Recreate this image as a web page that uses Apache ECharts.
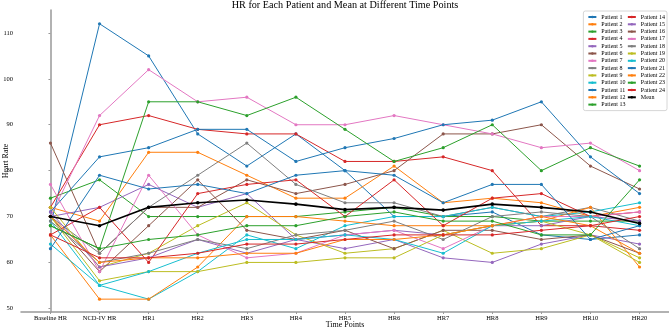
<!DOCTYPE html>
<html>
<head>
<meta charset="utf-8">
<script src="https://cdn.jsdelivr.net/npm/echarts@6/dist/echarts.min.js"></script>
<style>
  html, body { margin: 0; padding: 0; background: #fff; }
  #chart { width: 669px; height: 329px; }
</style>
</head>
<body>
<div id="chart"></div>
<script>
const categories = ['Baseline HR', 'NCD-IV HR', 'HR1', 'HR2', 'HR3', 'HR4', 'HR5', 'HR6', 'HR7', 'HR8', 'HR9', 'HR10', 'HR20']
const yTicks = [50, 60, 70, 80, 90, 100, 110]

const p1 = [68, 112, 105, 88, 81, 88, 80, 70, 70, 71, 66, 65, 66]
const p2 = [72, 69, 84, 84, 79, 74, 74, 81, 73, 74, 73, 70, 72]
const p3 = [74, 78, 70, 70, 70, 70, 71, 72, 70, 70, 69, 69, 69]
const p4 = [72, 90, 92, 89, 88, 88, 82, 82, 83, 80, 68, 68, 67]
const p5 = [70, 72, 77, 72, 75, 65, 63, 65, 61, 60, 64, 66, 64]
const p6 = [86, 62, 72, 72, 78, 75, 77, 80, 88, 88, 90, 81, 76]
const p7 = [70, 92, 102, 95, 96, 90, 90, 92, 90, 88, 85, 86, 80]
const p8 = [70, 62, 72, 79, 86, 77, 73, 73, 70, 72, 70, 72, 69]
const p9 = [72, 59, 62, 68, 73, 66, 62, 63, 67, 62, 63, 66, 61]
const p10 = [69, 55, 52, 58, 66, 63, 68, 70, 70, 72, 70, 71, 73]
const p11 = [71, 83, 85, 89, 89, 82, 85, 87, 90, 91, 95, 83, 75]
const p12 = [66, 52, 52, 59, 70, 70, 69, 68, 68, 68, 69, 72, 59]
const p13 = [68, 63, 95, 95, 92, 96, 89, 82, 85, 90, 80, 85, 81]
const p14 = [66, 72, 60, 75, 77, 78, 70, 78, 68, 74, 75, 70, 71]
const p15 = [71, 59, 61, 65, 62, 65, 66, 67, 66, 68, 68, 70, 69]
const p16 = [70, 58, 68, 78, 67, 65, 67, 63, 67, 67, 65, 66, 62]
const p17 = [77, 58, 79, 66, 61, 62, 66, 67, 63, 68, 70, 70, 71]
const p18 = [69, 60, 62, 65, 63, 66, 67, 69, 65, 70, 71, 70, 63]
const p19 = [70, 56, 58, 58, 60, 60, 61, 61, 66, 68, 69, 66, 60]
const p20 = [64, 55, 58, 62, 65, 65, 66, 65, 62, 68, 69, 70, 68]
const p21 = [63, 79, 76, 77, 75, 79, 80, 79, 73, 77, 77, 65, 68]
const p22 = [70, 60, 61, 61, 62, 62, 65, 65, 66, 68, 70, 68, 62]
const p23 = [68, 63, 65, 66, 68, 68, 70, 71, 69, 69, 66, 66, 78]
const p24 = [66, 61, 61, 62, 64, 64, 65, 66, 66, 66, 67, 68, 70]
const meanHR = [70, 68, 72, 73, 73.6, 72.7, 71.5, 72, 71.4, 72.7, 72, 71, 68.5]

const patients = [p1, p2, p3, p4, p5, p6, p7, p8, p9, p10, p11, p12,
    p13, p14, p15, p16, p17, p18, p19, p20, p21, p22, p23, p24]

// matplotlib tab10 cycle
const palette = ['#1f77b4', '#ff7f0e', '#2ca02c', '#d62728', '#9467bd',
    '#8c564b', '#e377c2', '#7f7f7f', '#bcbd22', '#17becf']

const FONT = 'Liberation Serif'

const toPoints = vals => vals.map((v, i) => [i, v])

const series = patients.map((vals, i) => ({
    name: 'Patient ' + (i + 1),
    type: 'line',
    data: toPoints(vals),
    symbol: 'circle',
    symbolSize: 3.2,
    color: palette[i % palette.length],
    lineStyle: { width: 1 },
    emphasis: { disabled: true }
}))

series.push({
    name: 'Mean',
    type: 'line',
    data: toPoints(meanHR),
    symbol: 'circle',
    symbolSize: 3.6,
    color: '#000',
    lineStyle: { width: 1.6 },
    z: 5,
    emphasis: { disabled: true }
})

const chart = echarts.init(document.getElementById('chart'))

chart.setOption({
    animation: false,
    title: {
        text: 'HR for Each Patient and Mean at Different Time Points',
        left: 345,
        textAlign: 'center',
        top: 0,
        padding: 0,
        textStyle: { fontFamily: FONT, fontSize: 10.2, fontWeight: 'normal', color: '#000' }
    },
    legend: {
        orient: 'vertical',
        right: 2,
        top: 11,
        height: 97,
        itemWidth: 8,
        itemHeight: 3,
        itemGap: 1.3,
        padding: [3, 2, 3, 4],
        borderColor: '#ccc',
        borderWidth: 0.8,
        borderRadius: 2,
        backgroundColor: 'rgba(255,255,255,0.8)',
        textStyle: { fontFamily: FONT, fontSize: 6, color: '#000', padding: [0, 1.5, 0, 0] }
    },
    grid: { left: 21, right: 0, top: 10, bottom: 17, outerBoundsMode: 'none' },
    xAxis: {
        type: 'value',
        min: -0.6,
        max: 12.6,
        name: 'Time Points',
        nameLocation: 'middle',
        nameGap: 8.5,
        nameMoveOverlap: false,
        nameTextStyle: { fontFamily: FONT, fontSize: 8, color: '#000' },
        axisLine: { show: true, lineStyle: { color: '#999', width: 1.5 } },
        axisTick: { show: true, length: 2, customValues: categories.map((c, i) => i), lineStyle: { color: '#999' } },
        axisLabel: {
            customValues: categories.map((c, i) => i),
            formatter: v => categories[v],
            margin: 3,
            fontFamily: FONT,
            fontSize: 6.5,
            color: '#000'
        },
        splitLine: { show: false }
    },
    yAxis: {
        type: 'value',
        min: 49.2,
        max: 115,
        name: 'Heart Rate',
        nameLocation: 'middle',
        nameGap: 11,
        nameMoveOverlap: false,
        nameTextStyle: { fontFamily: FONT, fontSize: 8, color: '#000' },
        axisLine: { show: true, lineStyle: { color: '#999', width: 1.5 } },
        axisTick: { show: true, length: 2, customValues: yTicks, lineStyle: { color: '#999' } },
        axisLabel: {
            customValues: yTicks,
            margin: 8,
            fontFamily: FONT,
            fontSize: 6.5,
            color: '#000'
        },
        splitLine: { show: false }
    },
    series: series
})
</script>
</body>
</html>
